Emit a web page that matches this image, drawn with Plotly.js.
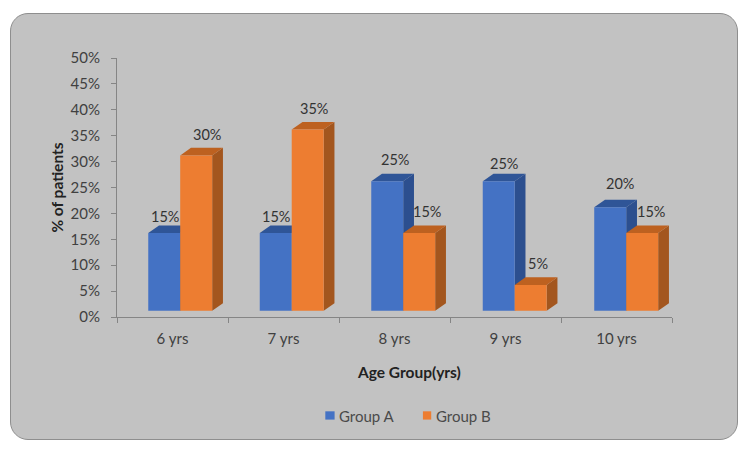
<!DOCTYPE html>
<html>
<head>
<meta charset="utf-8">
<script src="https://cdn.plot.ly/plotly-3.0.1.min.js"></script>
<style>
html,body{margin:0;padding:0;background:#fff;width:750px;height:449px;overflow:hidden}
#panel{position:absolute;left:10px;top:13px;width:726px;height:425px;background:#c2c2c2;border:1.5px solid #8e8e8e;border-radius:18px}
#chart{position:absolute;left:0;top:0;width:750px;height:449px}
</style>
</head>
<body>
<div id="panel"></div>
<div id="chart"></div>
<script>
const categories = ["6 yrs","7 yrs","8 yrs","9 yrs","10 yrs"];
const groupA = [15,15,25,25,20];
const groupB = [30,35,15,5,15];
const tickValues = [0,5,10,15,20,25,30,35,40,45,50];
const tickLabels = tickValues.map(v => v + "%");

// label nudges in px, relative to category centre / value height
const shiftAx = [-8,-8,0,-2,3.5], shiftAy = [23,23,28,24,30];
const shiftBx = [34,30.5,32.5,32,34], shiftBy = [27,27,28,28,27.5];

// pseudo-3D settings in axis units
const barW = 0.288, drift = 0.0045;
const offA = categories.map((c,i)=>-0.2185+i*drift);
const offB = categories.map((c,i)=>0.0695+i*drift);
const floor = 1.2, depthX = 0.097, depthY = 1.45;
const font = "Lato, Carlito, sans-serif";

// page-pixel helpers for the legend and x title, mapped to paper fractions
const M = {l:116.5,r:78,t:58,b:131.5};
const px = p => (p-M.l)/(750-M.l-M.r);
const py = p => (449-M.b-p)/(449-M.t-M.b);

function faces(values, off, sideCol, topCol){
  const out = [];
  values.forEach((v,i)=>{
    const xl = i+off[i], xr = xl+barW, top = floor+v;
    out.push({type:"path",xref:"x",yref:"y",layer:"below",line:{width:0},fillcolor:sideCol,
      path:`M${xr},${floor}L${xr+depthX},${floor+depthY}L${xr+depthX},${top+depthY}L${xr},${top}Z`});
    out.push({type:"path",xref:"x",yref:"y",layer:"below",line:{width:0},fillcolor:topCol,
      path:`M${xl},${top}L${xl+depthX},${top+depthY}L${xr+depthX},${top+depthY}L${xr},${top}Z`});
  });
  return out;
}
function labels(values, sx, sy){
  return values.map((v,i)=>({x:i,y:v,xref:"x",yref:"y",text:v+"%",showarrow:false,xanchor:"center",yanchor:"middle",
    xshift:sx[i],yshift:sy[i],font:{family:font,size:14.5,color:"#333"}}));
}
function bar(name,vals,off,color){
  return {type:"bar",name,x:categories,y:vals,base:categories.map(()=>floor),width:barW,offset:off,
    marker:{color,line:{width:0}},hovertemplate:"%{x}: "+"%{customdata}%<extra>"+name+"</extra>",customdata:vals};
}
function legendSwatch(x0,x1,color){
  return {type:"rect",xref:"paper",yref:"paper",x0:px(x0),x1:px(x1),y0:py(420.3),y1:py(412),fillcolor:color,line:{width:0}};
}
function legendText(text,x){
  return {xref:"paper",yref:"paper",x:px(x),y:py(416.7),text,showarrow:false,xanchor:"left",yanchor:"middle",
    xshift:-1,font:{family:font,size:15,color:"#4a4a4a"}};
}
const axisCol = "#858585";
Plotly.newPlot("chart",[bar("Group A",groupA,offA,"#4472c4"),bar("Group B",groupB,offB,"#ed7d31")],{
  width:750,height:449,
  margin:{l:M.l,r:M.r,t:M.t,b:M.b,pad:0},
  paper_bgcolor:"rgba(0,0,0,0)",plot_bgcolor:"rgba(0,0,0,0)",
  barmode:"overlay",
  showlegend:false,
  xaxis:{type:"category",categoryorder:"array",categoryarray:categories,range:[-0.5,4.5],tickson:"boundaries",
    ticks:"outside",ticklen:5,tickwidth:1,tickcolor:axisCol,showline:true,linecolor:axisCol,linewidth:1,showgrid:false,zeroline:false,
    ticklabelstandoff:8,tickfont:{family:font,size:15,color:"#404040"}},
  yaxis:{range:[0,50],tickmode:"array",tickvals:tickValues,ticktext:tickLabels,
    ticks:"outside",ticklen:5,tickwidth:1,tickcolor:axisCol,showline:true,linecolor:axisCol,linewidth:1,showgrid:false,zeroline:false,
    ticklabelstandoff:8,tickfont:{family:font,size:15,color:"#404040"},
    title:{text:"% of patients",standoff:3,font:{family:font,size:15.5,color:"#222",weight:"bold"}}},
  shapes:[...faces(groupA,offA,"#2c4f8f","#2f5597"),...faces(groupB,offB,"#a3561e","#bd6120"),
    legendSwatch(325,334.3,"#4472c4"),legendSwatch(422.7,431,"#ed7d31")],
  annotations:[...labels(groupA,shiftAx,shiftAy),...labels(groupB,shiftBx,shiftBy),
    {xref:"paper",yref:"paper",x:px(409),y:py(372.5),text:"<b>Age Group(yrs)</b>",showarrow:false,xanchor:"center",yanchor:"middle",
     font:{family:font,size:15.5,color:"#222"}},
    legendText("Group A",338),legendText("Group B",434.5)]
},{displayModeBar:false,responsive:false});
</script>
</body>
</html>
